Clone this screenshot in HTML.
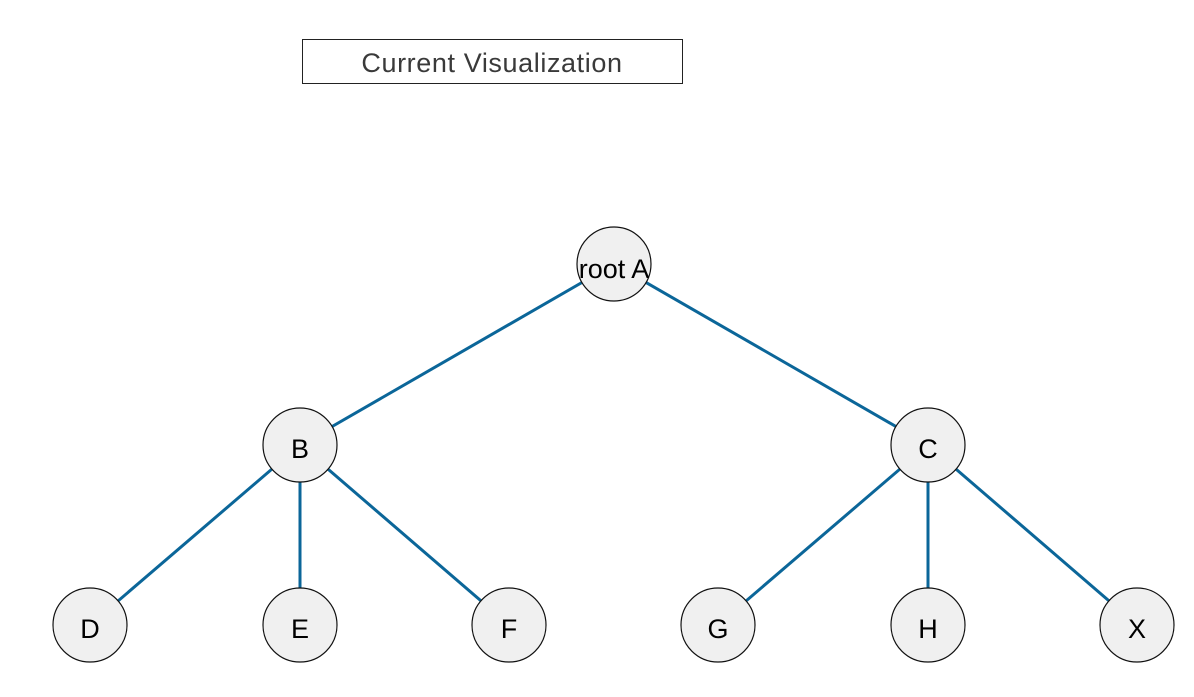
<!DOCTYPE html>
<html><head><meta charset="utf-8"><style>
html,body{margin:0;padding:0;background:#fff;width:1194px;height:697px;overflow:hidden}
</style></head><body>
<svg width="1194" height="697" xmlns="http://www.w3.org/2000/svg">
<rect x="302.5" y="39.5" width="380" height="44" fill="#fff" stroke="#222" stroke-width="1"/>
<text x="492" y="72" text-anchor="middle" font-family="Liberation Sans, sans-serif" font-size="27" letter-spacing="0.6" fill="#3a3a3a">Current Visualization</text>
<g stroke="#0b6699" stroke-width="3">
<line x1="614" y1="264" x2="300" y2="445"/>
<line x1="614" y1="264" x2="928" y2="445"/>
<line x1="300" y1="445" x2="90" y2="625"/>
<line x1="300" y1="445" x2="300" y2="625"/>
<line x1="300" y1="445" x2="509" y2="625"/>
<line x1="928" y1="445" x2="718" y2="625"/>
<line x1="928" y1="445" x2="928" y2="625"/>
<line x1="928" y1="445" x2="1137" y2="625"/>
</g>
<g fill="#f0f0f0" stroke="#111" stroke-width="1.2">
<circle cx="614" cy="264" r="37"/>
<circle cx="300" cy="445" r="37"/>
<circle cx="928" cy="445" r="37"/>
<circle cx="90" cy="625" r="37"/>
<circle cx="300" cy="625" r="37"/>
<circle cx="509" cy="625" r="37"/>
<circle cx="718" cy="625" r="37"/>
<circle cx="928" cy="625" r="37"/>
<circle cx="1137" cy="625" r="37"/>
</g>
<g font-family="Liberation Sans, sans-serif" font-size="27" fill="#000" text-anchor="middle">
<text x="614" y="278">root A</text>
<text x="300" y="458">B</text>
<text x="928" y="458">C</text>
<text x="90" y="638">D</text>
<text x="300" y="638">E</text>
<text x="509" y="638">F</text>
<text x="718" y="638">G</text>
<text x="928" y="638">H</text>
<text x="1137" y="638">X</text>
</g>
</svg>
</body></html>
